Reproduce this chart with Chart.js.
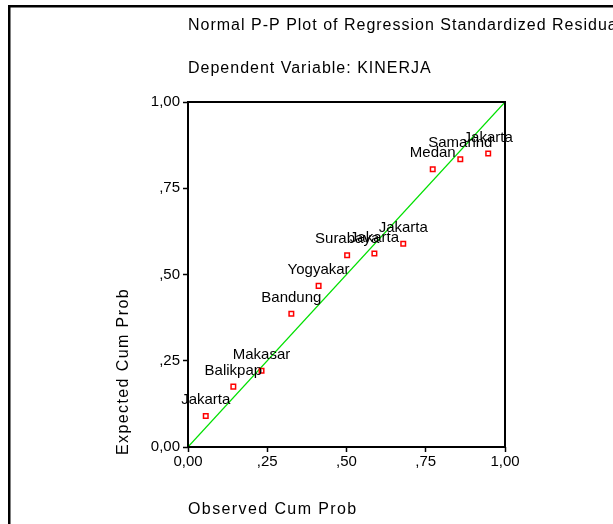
<!DOCTYPE html>
<html>
<head>
<meta charset="utf-8">
<script src="https://cdn.jsdelivr.net/npm/chart.js@4.4.0/dist/chart.umd.min.js"></script>
<style>
  html, body { margin: 0; padding: 0; background: #fff; overflow: hidden; }
  #wrap { position: relative; width: 613px; height: 524px; }
</style>
</head>
<body>
<div id="wrap"><canvas id="pp" width="613" height="524"></canvas></div>
<script>
const chartTitle = 'Normal P-P Plot of Regression Standardized Residual';
const chartSubtitle = 'Dependent Variable: KINERJA';
const xAxisTitle = 'Observed Cum Prob';
const yAxisTitle = 'Expected Cum Prob';

// one point per case, labelled with the (truncated) city name
const cityLabels = ['Jakarta', 'Balikpap', 'Makasar', 'Bandung', 'Yogyakar', 'Surabaya', 'Jakarta', 'Jakarta', 'Medan', 'Samarind', 'Jakarta'];
const observedCum = [0.056, 0.143, 0.232, 0.326, 0.412, 0.502, 0.588, 0.679, 0.772, 0.859, 0.947];
const expectedCum = [0.090, 0.175, 0.221, 0.386, 0.467, 0.556, 0.561, 0.589, 0.805, 0.834, 0.851];

// diagonal reference line
const refLine = [0, 1];

const tickValues = [0, 0.25, 0.5, 0.75, 1];
const tickLabels = ['0,00', ',25', ',50', ',75', '1,00'];

const FONT = '"Liberation Sans", Arial, sans-serif';

const spssText = {
  id: 'spssText',
  beforeDraw(chart) {
    const ctx = chart.ctx;
    ctx.save();
    ctx.fillStyle = '#fff';
    ctx.fillRect(0, 0, chart.width, chart.height);
    // outer frame, runs off the right and bottom edge
    ctx.strokeStyle = '#000';
    ctx.lineWidth = 2.5;
    ctx.strokeRect(9.25, 6.25, chart.width + 50, chart.height + 50);
    ctx.restore();
  },
  afterDatasetsDraw(chart) {
    const { ctx, chartArea: a } = chart;
    ctx.save();
    ctx.strokeStyle = '#000';
    ctx.lineWidth = 2;
    ctx.strokeRect(a.left, a.top, a.right - a.left, a.bottom - a.top);

    // case labels above each point
    const meta = chart.getDatasetMeta(1);
    ctx.fillStyle = '#000';
    ctx.font = '15px ' + FONT;
    ctx.textAlign = 'center';
    ctx.textBaseline = 'middle';
    meta.data.forEach((pt, i) => {
      ctx.fillText(cityLabels[i], pt.x, pt.y - 16);
    });
    ctx.restore();
  },
  afterDraw(chart) {
    const { ctx, chartArea: a } = chart;
    ctx.save();
    ctx.fillStyle = '#000';
    ctx.font = '16px ' + FONT;
    ctx.letterSpacing = '1px';
    ctx.textAlign = 'left';
    ctx.textBaseline = 'middle';
    ctx.fillText(chartTitle, a.left, 26);
    ctx.fillText(chartSubtitle, a.left, 69);
    ctx.letterSpacing = '1.4px';
    ctx.fillText(xAxisTitle, a.left, 510);
    ctx.translate(124, a.bottom + 8);
    ctx.rotate(-Math.PI / 2);
    ctx.fillText(yAxisTitle, 0, 0);
    ctx.restore();
  }
};

const axisCommon = {
  type: 'linear',
  min: 0,
  max: 1,
  afterBuildTicks: s => { s.ticks = tickValues.map(v => ({ value: v })); },
  ticks: {
    color: '#000',
    font: { family: FONT, size: 15 },
    callback: (v, i) => tickLabels[i]
  },
  grid: {
    drawOnChartArea: false,
    drawTicks: true,
    tickLength: 5,
    tickWidth: 1.5,
    tickColor: '#000'
  },
  border: { display: false }
};

new Chart(document.getElementById('pp'), {
  type: 'scatter',
  data: {
    datasets: [
      {
        type: 'line',
        data: refLine.map(v => ({ x: v, y: v })),
        borderColor: '#00e000',
        borderWidth: 1.2,
        pointRadius: 0,
        fill: false,
        order: 2
      },
      {
        data: observedCum.map((x, i) => ({ x: x, y: expectedCum[i] })),
        pointStyle: 'rect',
        pointRadius: 3.2,
        borderWidth: 1.5,
        borderColor: '#ff0000',
        backgroundColor: 'rgba(255,255,255,0)',
        order: 1
      }
    ]
  },
  options: {
    responsive: false,
    animation: false,
    layout: { padding: { top: 102, right: 108, left: 100, bottom: 4 } },
    plugins: { legend: { display: false }, tooltip: { enabled: false } },
    scales: {
      x: Object.assign({}, axisCommon, {
        position: 'bottom',
        ticks: Object.assign({}, axisCommon.ticks, { padding: 1 }),
        afterFit: s => { s.height = 73; }
      }),
      y: Object.assign({}, axisCommon, {
        position: 'left',
        ticks: Object.assign({}, axisCommon.ticks, { padding: 3 }),
        afterFit: s => { s.width = 88; }
      })
    }
  },
  plugins: [spssText]
});
</script>
</body>
</html>
